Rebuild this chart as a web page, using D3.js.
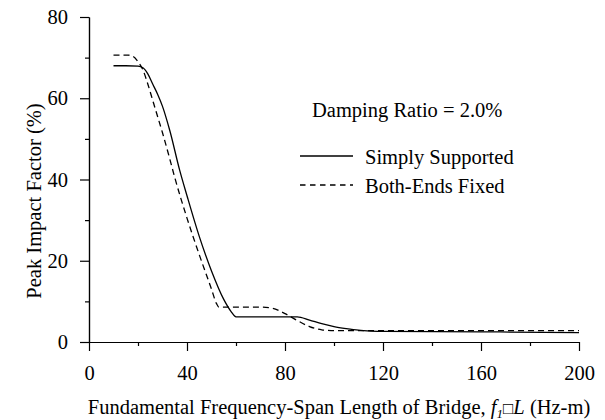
<!DOCTYPE html>
<html>
<head>
<meta charset="utf-8">
<script src="https://cdn.jsdelivr.net/npm/d3@7"></script>
<style>
  html, body { margin: 0; padding: 0; background: #fff; }
  svg { display: block; font-family: "Liberation Serif", "Times New Roman", serif; }
</style>
</head>
<body>
<svg id="chart" width="605" height="420"></svg>
<script>
// Fundamental frequency-span length (Hz-m) and peak impact factor (%)
const simplyX = [10, 15, 20, 22, 24, 26, 28, 30, 33, 37, 40, 45, 50, 55, 58, 60, 85, 90, 95, 100, 105, 110, 115, 120, 160, 200];
const simplyY = [68, 68, 67.9, 67.5, 66, 63.5, 61, 58, 52, 42.3, 36, 26, 17.5, 10.5, 7.5, 6.2, 6.2, 5.4, 4.5, 3.8, 3.3, 2.9, 2.7, 2.6, 2.5, 2.3];

const fixedX = [10, 16, 18, 20, 22, 24, 26, 28, 30, 33, 35, 40, 45, 50, 52, 53, 60, 70, 75, 80, 85, 90, 95, 100, 200];
const fixedY = [70.6, 70.6, 70.3, 69, 67, 63.5, 59.5, 55.5, 51.5, 45, 40.5, 30.5, 21.5, 13, 9.5, 8.6, 8.6, 8.6, 8.3, 7, 5.3, 3.8, 3.0, 2.8, 2.8];

const xMajorTicks = [0, 40, 80, 120, 160, 200];
const xMinorTicks = [20, 60, 100, 140, 180];
const yMajorTicks = [0, 20, 40, 60, 80];
const yMinorTicks = [10, 30, 50, 70];

const seriesNames = ["Simply Supported", "Both-Ends Fixed"];
const dampingNote = "Damping Ratio = 2.0%";

const svg = d3.select("#chart");
const plotLeft = 89, plotRight = 579, plotTop = 17, plotBottom = 342;
const fontSize = 20.5;
const serif = "Liberation Serif, Times New Roman, serif";

const x = d3.scaleLinear().domain([0, 200]).range([plotLeft, plotRight]);
const y = d3.scaleLinear().domain([0, 80]).range([plotBottom, plotTop]);

function styleAxis(g) {
  g.attr("font-family", serif).attr("font-size", fontSize);
  g.selectAll("path, line").attr("stroke", "#000").attr("stroke-width", 1.2);
  g.selectAll("text").attr("fill", "#000");
}

// minor ticks (no labels)
svg.append("g").attr("transform", `translate(0,${plotBottom})`)
  .call(d3.axisBottom(x).tickValues(xMinorTicks).tickSize(4).tickSizeOuter(0).tickFormat(""))
  .call(styleAxis);
svg.append("g").attr("transform", `translate(${plotLeft},0)`)
  .call(d3.axisLeft(y).tickValues(yMinorTicks).tickSize(4).tickSizeOuter(0).tickFormat(""))
  .call(styleAxis);

// major axes
svg.append("g").attr("transform", `translate(0,${plotBottom})`)
  .call(d3.axisBottom(x).tickValues(xMajorTicks).tickSize(9).tickSizeOuter(0).tickPadding(14.5))
  .call(styleAxis);
svg.append("g").attr("transform", `translate(${plotLeft},0)`)
  .call(d3.axisLeft(y).tickValues(yMajorTicks).tickSize(9).tickSizeOuter(0).tickPadding(12))
  .call(styleAxis);

// curves
const line = d3.line().x(d => x(d[0])).y(d => y(d[1])).curve(d3.curveMonotoneX);
const simplyData = d3.zip(simplyX, simplyY);
const fixedData = d3.zip(fixedX, fixedY);

svg.append("path").datum(simplyData).attr("d", line)
  .attr("fill", "none").attr("stroke", "#000").attr("stroke-width", 1.3);
svg.append("path").datum(fixedData).attr("d", line)
  .attr("fill", "none").attr("stroke", "#000").attr("stroke-width", 1.3)
  .attr("stroke-dasharray", "6,4");

// annotation and legend
svg.append("text").attr("x", 312).attr("y", 117).attr("font-size", fontSize).text(dampingNote);

const legend = svg.append("g");
const legendRows = [
  { name: seriesNames[0], dash: null, ly: 156, ty: 164 },
  { name: seriesNames[1], dash: "5.5,4.5", ly: 185, ty: 193 }
];
legendRows.forEach(r => {
  legend.append("line").attr("x1", 300).attr("x2", 353).attr("y1", r.ly).attr("y2", r.ly)
    .attr("stroke", "#000").attr("stroke-width", 1.3)
    .attr("stroke-dasharray", r.dash);
  legend.append("text").attr("x", 365).attr("y", r.ty).attr("font-size", fontSize).text(r.name);
});

// axis titles
svg.append("text")
  .attr("transform", "translate(41,201) rotate(-90)")
  .attr("text-anchor", "middle").attr("font-size", fontSize)
  .text("Peak Impact Factor (%)");

const xt = svg.append("text").attr("x", 339).attr("y", 414)
  .attr("text-anchor", "middle").attr("font-size", fontSize);
xt.append("tspan").text("Fundamental Frequency-Span Length of Bridge, ");
xt.append("tspan").attr("font-style", "italic").text("f");
xt.append("tspan").attr("font-style", "italic").attr("font-size", 13).attr("dy", 4).text("1");
xt.append("tspan").attr("dy", -4).attr("font-size", 17).text("□");
xt.append("tspan").attr("font-style", "italic").text("L");
xt.append("tspan").text(" (Hz-m)");
</script>
</body>
</html>
